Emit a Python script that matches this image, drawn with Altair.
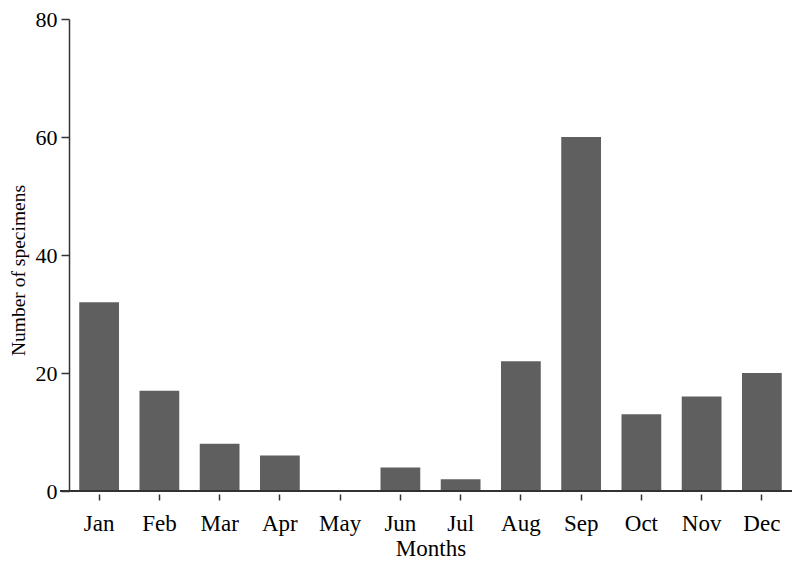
import altair as alt
import pandas as pd

months = ["Jan", "Feb", "Mar", "Apr", "May", "Jun", "Jul", "Aug", "Sep", "Oct", "Nov", "Dec"]
specimens = [32, 17, 8, 6, 0, 4, 2, 22, 60, 13, 16, 20]

df = pd.DataFrame({"Month": months, "Count": specimens})

FONT = "Liberation Serif"
AX = "#333333"
W = 723
H = 472

bars = alt.Chart(df).mark_bar(color="#5f5f5f").encode(
    x=alt.X("Month:N", sort=months,
            scale=alt.Scale(paddingInner=0.34, paddingOuter=0.17),
            axis=alt.Axis(title="Months", labelAngle=0, domain=False, offset=3,
                          tickSize=6, tickColor=AX, tickWidth=1.5,
                          labelFontSize=23, titleFontSize=23,
                          labelPadding=12,
                          titleBaseline="alphabetic", titleY=61)),
    y=alt.Y("Count:Q", scale=alt.Scale(domain=[0, 80]),
            axis=alt.Axis(title="Number of specimens", values=[0, 20, 40, 60, 80],
                          tickSize=8, tickColor=AX, tickWidth=1.5,
                          domainColor=AX, domainWidth=1.5,
                          labelFontSize=22, titleFontSize=19.5,
                          labelPadding=4, grid=False,
                          titleBaseline="alphabetic", titleX=-45, titleY=251)),
)

base_line = alt.Chart(df).mark_rule(color=AX, strokeWidth=1.5).encode(
    x=alt.value(-9), x2=alt.value(W), y=alt.datum(0)
)

chart = alt.layer(bars, base_line).properties(
    width=W, height=H,
    autosize=alt.AutoSizeParams(type="none"),
    padding={"left": 61, "top": 11, "right": 0, "bottom": 68},
).configure_view(stroke=None).configure_axis(
    labelFont=FONT, titleFont=FONT,
    labelColor="black", titleColor="black", titleFontWeight="normal",
)

chart.save("out.html", embed_options={"renderer": "svg", "actions": False})
